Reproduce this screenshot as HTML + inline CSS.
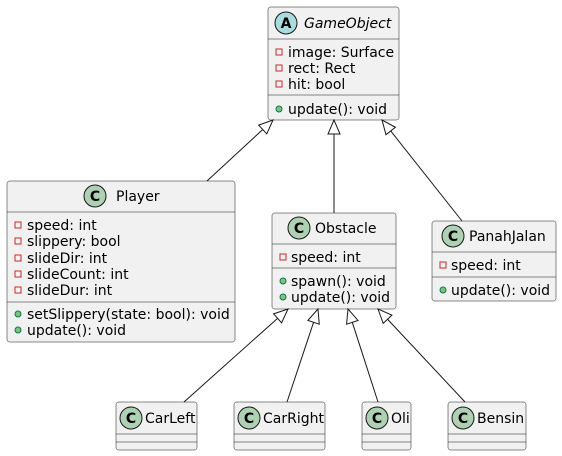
<!DOCTYPE html>
<html><head><meta charset="utf-8"><style>
html,body{margin:0;padding:0;background:#fff;width:562px;height:456px;overflow:hidden}
svg text{font-family:"DejaVu Sans","Liberation Sans",sans-serif;fill:#000}
</style></head><body>
<svg width="562" height="456" viewBox="0 0 562 456" xmlns="http://www.w3.org/2000/svg">
<g fill="#F1F1F1" stroke="#181818" stroke-width="0.5">
<rect x="268" y="7" width="131" height="113" rx="2.5"/>
<rect x="7" y="181" width="228" height="161" rx="2.5"/>
<rect x="272" y="213" width="124" height="96" rx="2.5"/>
<rect x="432" y="221" width="124" height="80" rx="2.5"/>
<rect x="116" y="402" width="81" height="48" rx="2.5"/>
<rect x="234" y="402" width="91" height="48" rx="2.5"/>
<rect x="362" y="402" width="49" height="48" rx="2.5"/>
<rect x="448" y="402" width="78" height="48" rx="2.5"/>
</g>
<g stroke="#181818" stroke-width="0.5">
<line x1="268" y1="39" x2="399" y2="39"/><line x1="268" y1="95" x2="399" y2="95"/>
<line x1="7" y1="212" x2="235" y2="212"/><line x1="7" y1="302" x2="235" y2="302"/>
<line x1="272" y1="244" x2="396" y2="244"/><line x1="272" y1="268" x2="396" y2="268"/>
<line x1="432" y1="252" x2="556" y2="252"/><line x1="432" y1="277" x2="556" y2="277"/>
<line x1="116" y1="434" x2="197" y2="434"/><line x1="116" y1="442" x2="197" y2="442"/>
<line x1="234" y1="434" x2="325" y2="434"/><line x1="234" y1="442" x2="325" y2="442"/>
<line x1="362" y1="434" x2="411" y2="434"/><line x1="362" y1="442" x2="411" y2="442"/>
<line x1="448" y1="434" x2="526" y2="434"/><line x1="448" y1="442" x2="526" y2="442"/>
</g>
<g id="arrows" stroke="#181818" stroke-width="1" fill="none"></g>
<g stroke="#181818" stroke-width="1">
<circle cx="286" cy="23" r="11" fill="#A9DCDF"/>
<circle cx="95" cy="196" r="11" fill="#ADD1B2"/>
<circle cx="299" cy="228" r="11" fill="#ADD1B2"/>
<circle cx="453" cy="236" r="11" fill="#ADD1B2"/>
<circle cx="131" cy="418" r="11" fill="#ADD1B2"/>
<circle cx="249" cy="418" r="11" fill="#ADD1B2"/>
<circle cx="377" cy="418" r="11" fill="#ADD1B2"/>
<circle cx="463" cy="418" r="11" fill="#ADD1B2"/>
</g>
<g font-size="14" font-weight="bold" text-anchor="middle">
<text x="286" y="28">A</text><text x="95" y="201">C</text><text x="299" y="233">C</text><text x="453" y="241">C</text>
<text x="131" y="423">C</text><text x="249" y="423">C</text><text x="377" y="423">C</text><text x="463" y="423">C</text>
</g>
<g font-size="14">
<text x="304" y="28" font-style="italic">GameObject</text>
<text x="116" y="201">Player</text>
<text x="315" y="233">Obstacle</text>
<text x="469" y="241">PanahJalan</text>
<text x="145" y="423">CarLeft</text>
<text x="263" y="423">CarRight</text>
<text x="391" y="423">Oli</text>
<text x="477" y="423">Bensin</text>
</g>
<g fill="none" stroke="#C82930" stroke-width="1">
<rect x="276" y="49" width="6" height="6"/><rect x="276" y="65" width="6" height="6"/><rect x="276" y="81" width="6" height="6"/>
<rect x="15" y="222" width="6" height="6"/><rect x="15" y="238" width="6" height="6"/><rect x="15" y="255" width="6" height="6"/><rect x="15" y="271" width="6" height="6"/><rect x="15" y="287" width="6" height="6"/>
<rect x="280" y="254" width="6" height="6"/>
<rect x="440" y="262" width="6" height="6"/>
</g>
<g fill="#84BE84" stroke="#038048" stroke-width="1">
<circle cx="279" cy="109" r="3"/>
<circle cx="18" cy="314" r="3"/><circle cx="18" cy="330" r="3"/>
<circle cx="283" cy="281" r="3"/><circle cx="283" cy="297" r="3"/>
<circle cx="443" cy="290" r="3"/>
</g>
<g font-size="14">
<text x="288" y="57">image: Surface</text><text x="288" y="73">rect: Rect</text><text x="288" y="89">hit: bool</text>
<text x="288" y="114">update(): void</text>
<text x="27" y="230">speed: int</text><text x="27" y="246">slippery: bool</text><text x="27" y="263">slideDir: int</text><text x="27" y="279">slideCount: int</text><text x="27" y="295">slideDur: int</text>
<text x="27" y="319">setSlippery(state: bool): void</text><text x="27" y="335">update(): void</text>
<text x="291" y="262">speed: int</text>
<text x="291" y="286">spawn(): void</text><text x="291" y="302">update(): void</text>
<text x="451" y="270">speed: int</text>
<text x="451" y="295">update(): void</text>
</g>
</svg>
<script>
var L=[[273,120,207,181],[334,120,334,213],[382,120,462,221],[288,309,184,402],[318,309,287,402],[348,309,378,402],[378,309,465,402]];
var g=document.getElementById('arrows'),h='';
L.forEach(function(a){var dx=a[2]-a[0],dy=a[3]-a[1],l=Math.hypot(dx,dy),ux=dx/l,uy=dy/l,px=-uy,py=ux;
var bx=a[0]+ux*14,by=a[1]+uy*14;
h+='<line x1="'+bx+'" y1="'+by+'" x2="'+a[2]+'" y2="'+a[3]+'"/>';
h+='<polygon fill="#fff" points="'+a[0]+','+a[1]+' '+(bx+px*6)+','+(by+py*6)+' '+(bx-px*6)+','+(by-py*6)+'"/>';});
g.innerHTML=h;
</script>
</body></html>
